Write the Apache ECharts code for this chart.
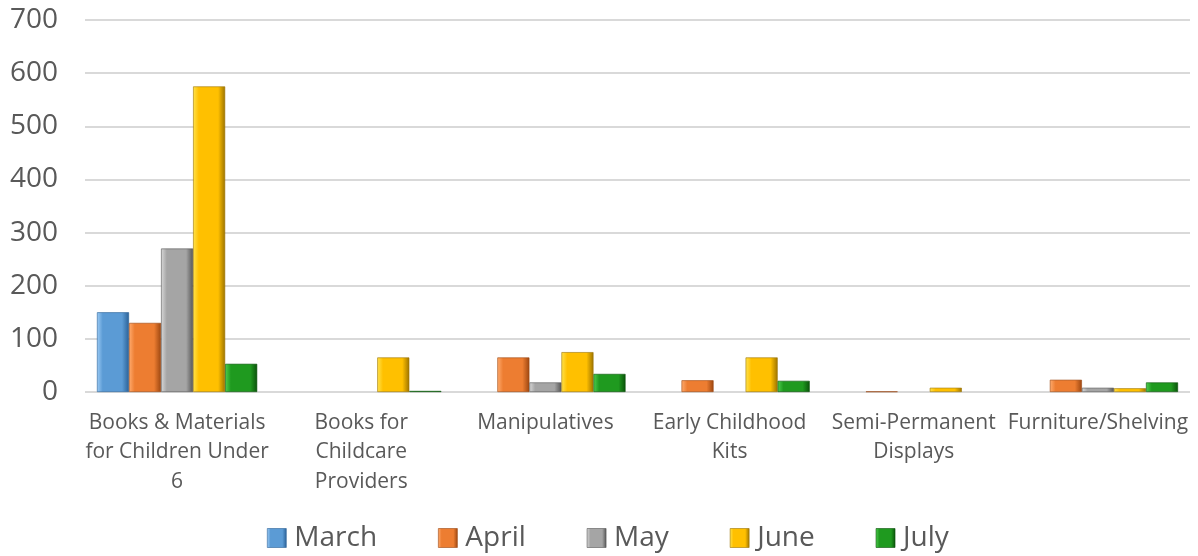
<!DOCTYPE html>
<html><head><meta charset="utf-8">
<script src="https://cdn.jsdelivr.net/npm/echarts@6/dist/echarts.min.js"></script>
<style>html,body{margin:0;padding:0;background:#fff}#c{width:1198px;height:556px}</style>
</head><body><div id="c"></div>
<script>
const categories = ["Books & Materials\nfor Children Under\n6", "Books for\nChildcare\nProviders", "Manipulatives", "Early Childhood\nKits", "Semi-Permanent\nDisplays", "Furniture/Shelving"];
const seriesNames = ["March", "April", "May", "June", "July"];
const march = [150, 0, 0, 0, 0, 0];
const april = [130, 0, 65, 22, 1, 23];
const may = [270, 0, 18, 0, 0, 8];
const june = [575, 65, 75, 65, 8, 7];
const july = [53, 2, 34, 21, 0, 18];
const yTicks = [0, 100, 200, 300, 400, 500, 600, 700];

const colors = [
  ["#9ccbf5", "#5b9bd5", "#2a6197"],
  ["#ffab6e", "#ed7d31", "#9c4610"],
  ["#d8d8d8", "#a5a5a5", "#555555"],
  ["#ffe34d", "#ffc000", "#9c7300"],
  ["#4fcf4f", "#1f9a1f", "#0a520a"]
];
function grad(c) {
  return new echarts.graphic.LinearGradient(0, 0, 1, 0, [
    {offset: 0, color: c[0]}, {offset: 0.18, color: c[1]}, {offset: 0.78, color: c[1]}, {offset: 1, color: c[2]}
  ]);
}
const data = [march, april, may, june, july];
const FONT = 'Open Sans';
const chart = echarts.init(document.getElementById('c'));
chart.setOption({
  animation: false,
  textStyle: {fontFamily: FONT},
  grid: {left: 85, right: 8, top: 20, bottom: 164, containLabel: false},
  legend: {
    top: 524, left: 267, itemWidth: 19, itemHeight: 19, itemGap: 61, padding: 0,
    textStyle: {fontSize: 28, lineHeight: 28, color: '#595959', fontFamily: FONT, padding: [0, 0, 0, 3]},
    data: seriesNames.map((n, i) => ({name: n, icon: 'rect', itemStyle: {color: grad(colors[i]), borderColor: colors[i][2], borderWidth: 0.6}}))
  },
  xAxis: {
    type: 'category', data: categories,
    axisLine: {show: false}, axisTick: {show: false},
    axisLabel: {fontSize: 21, color: '#595959', lineHeight: 29.5, interval: 0, margin: 16, fontFamily: FONT}
  },
  yAxis: {
    type: 'value', min: 0, max: yTicks[yTicks.length - 1], interval: 100,
    axisLabel: {fontSize: 28, color: '#595959', margin: 27, fontFamily: FONT},
    splitLine: {lineStyle: {color: '#d9d9d9', width: 2}},
    axisLine: {show: false}, axisTick: {show: false}
  },
  series: seriesNames.map((n, i) => ({
    name: n, type: 'bar', data: data[i].map(v => v === 0 ? '-' : v), barGap: '0%', barCategoryGap: '13%',
    itemStyle: {color: grad(colors[i]), borderColor: colors[i][2], borderWidth: 0.6}
  }))
});
</script></body></html>
